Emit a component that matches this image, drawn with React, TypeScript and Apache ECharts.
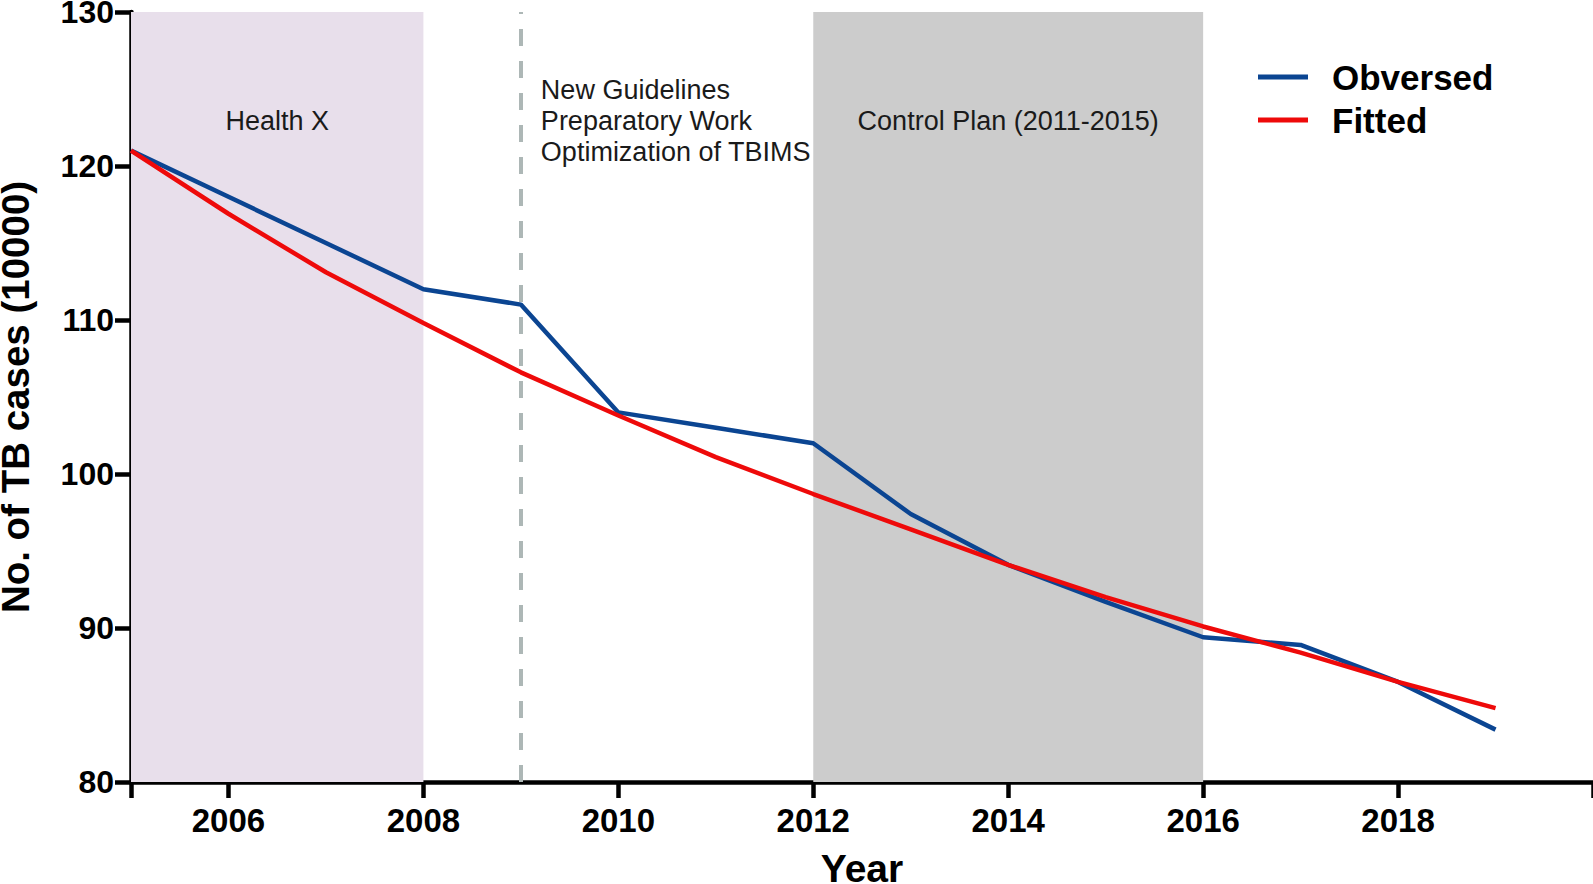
import React, { useEffect, useRef } from "react";
import * as echarts from "echarts";

const years = [2005, 2006, 2007, 2008, 2009, 2010, 2011, 2012, 2013, 2014, 2015, 2016, 2017, 2018, 2019];
const observed = [121, 118, 115, 112, 111, 104, 103, 102, 97.4, 94.1, 91.7, 89.4, 88.9, 86.5, 83.4];
const fitted = [121, 116.9, 113.1, 109.8, 106.6, 103.8, 101.1, 98.7, 96.4, 94.1, 92.0, 90.1, 88.4, 86.5, 84.8];
const xTickValues = [2005, 2006, 2008, 2010, 2012, 2014, 2016, 2018, 2020];
const xLabelValues = [2006, 2008, 2010, 2012, 2014, 2016, 2018];
const periods = [
  { from: 2005, to: 2008, label: "Health X", color: "#e8dfeb" },
  { from: 2012, to: 2016, label: "Control Plan (2011-2015)", color: "#cccccc" },
];
const guidelineYear = 2009;
const guidelineText = "New Guidelines\nPreparatory Work\nOptimization of TBIMS";

const FONT = "'Liberation Sans', Arial, Helvetica, sans-serif";

export default function App() {
  const ref = useRef<HTMLDivElement>(null);
  useEffect(() => {
    if (!ref.current) return;
    const chart = echarts.init(ref.current, null, { renderer: "svg" });
    const toPairs = (arr: number[]) => years.map((y, i) => [y, arr[i]]);
    chart.setOption({
      animation: false,
      backgroundColor: "#ffffff",
      textStyle: { fontFamily: FONT },
      grid: { left: 131, right: 0, top: 12, bottom: 102, containLabel: false, outerBoundsMode: "none" },
      legend: {
        orient: "vertical",
        left: 1253,
        top: 54,
        icon: "rect",
        itemWidth: 50,
        itemHeight: 5,
        itemGap: 7,
        textStyle: {
          fontSize: 35,
          fontWeight: "bold",
          color: "#000",
          lineHeight: 36,
          padding: [0, 0, 0, 19],
          fontFamily: FONT,
        },
        data: ["Obversed", "Fitted"],
      },
      xAxis: {
        type: "value",
        min: 2005,
        max: 2020,
        name: "Year",
        nameLocation: "middle",
        nameGap: 67,
        nameTextStyle: { fontSize: 39, fontWeight: "bold", color: "#000", fontFamily: FONT },
        axisLine: { show: true, onZero: false, lineStyle: { color: "#000", width: 4.5 } },
        axisTick: { show: true, length: 16, customValues: xTickValues, lineStyle: { color: "#000", width: 4.5 } },
        axisLabel: {
          customValues: xLabelValues,
          formatter: (v: number) => String(v),
          margin: 22,
          fontSize: 33,
          fontWeight: "bold",
          color: "#000",
          fontFamily: FONT,
        },
        splitLine: { show: false },
      },
      yAxis: {
        type: "value",
        min: 80,
        max: 130,
        interval: 10,
        name: "No. of TB cases (10000)",
        nameLocation: "middle",
        nameGap: 96,
        nameTextStyle: { fontSize: 38.5, fontWeight: "bold", color: "#000", fontFamily: FONT },
        axisLine: { show: true, lineStyle: { color: "#000", width: 4.5 } },
        axisTick: { show: true, length: 16, lineStyle: { color: "#000", width: 4.5 } },
        axisLabel: { margin: 17, fontSize: 32, fontWeight: "bold", color: "#000", fontFamily: FONT },
        splitLine: { show: false },
      },
      series: [
        {
          name: "annotations",
          type: "line",
          data: [],
          z: 1,
          silent: true,
          markArea: {
            silent: true,
            data: [
              ...periods.map((p) => [
                {
                  xAxis: p.from,
                  yAxis: 130,
                  itemStyle: { color: p.color },
                  label: {
                    show: true,
                    position: "insideTop",
                    distance: 95,
                    formatter: p.label,
                    fontSize: 27,
                    color: "#1a1a1a",
                    fontFamily: FONT,
                  },
                },
                { xAxis: p.to, yAxis: 80 },
              ]),
              [
                {
                  xAxis: guidelineYear,
                  yAxis: 130,
                  itemStyle: { color: "rgba(0,0,0,0)" },
                  label: {
                    show: true,
                    position: "insideTopLeft",
                    distance: 0,
                    offset: [20, 62],
                    formatter: guidelineText,
                    fontSize: 27,
                    lineHeight: 31,
                    align: "left",
                    color: "#1a1a1a",
                    fontFamily: FONT,
                  },
                },
                { xAxis: guidelineYear + 3, yAxis: 80 },
              ],
            ],
          },
          markLine: {
            silent: true,
            symbol: "none",
            label: { show: false },
            lineStyle: { color: "#adb7b6", width: 4, type: [17, 15] },
            data: [{ xAxis: guidelineYear }],
          },
        },
        {
          name: "Obversed",
          type: "line",
          z: 3,
          data: toPairs(observed),
          showSymbol: false,
          symbol: "none",
          color: "#0b4592",
          lineStyle: { color: "#0b4592", width: 4.5 },
        },
        {
          name: "Fitted",
          type: "line",
          z: 4,
          data: toPairs(fitted),
          showSymbol: false,
          symbol: "none",
          color: "#ee0a0a",
          lineStyle: { color: "#ee0a0a", width: 4.5 },
        },
      ],
    });
    return () => chart.dispose();
  }, []);
  return (
    <div
      ref={ref}
      style={{ position: "absolute", left: 0, top: 0, width: 1593, height: 884 }}
    />
  );
}
